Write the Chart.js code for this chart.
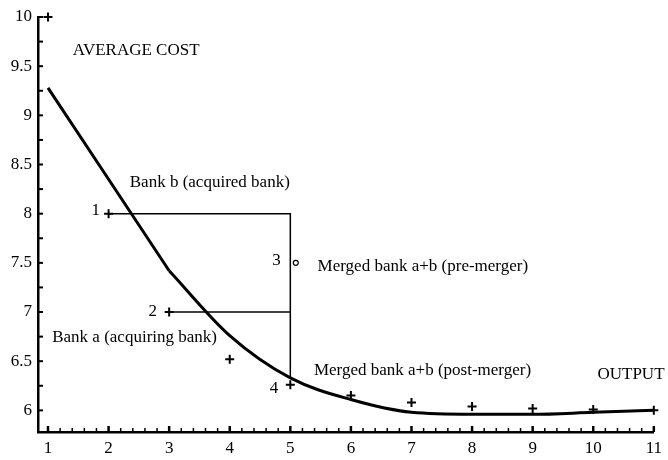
<!DOCTYPE html>
<html>
<head>
<meta charset="utf-8">
<script src="https://cdn.jsdelivr.net/npm/chart.js@4/dist/chart.umd.min.js"></script>
<style>
  body { margin: 0; background: #fff; }
  #wrap { width: 668px; height: 460px; }
</style>
</head>
<body>
<div id="wrap"><canvas id="myChart" width="668" height="460"></canvas></div>
<script>
// average cost curve: straight part from 1 to 3, smooth part from 3 on
var steepX = [1, 2, 3];
var steepY = [9.28, 8.35, 7.42];
var curveX = [3, 4, 5, 6, 7, 8, 9, 10, 11];
var curveY = [7.42, 6.76, 6.33, 6.11, 5.98, 5.96, 5.96, 5.98, 6.0];

// "+" observations
var plusX = [1, 2, 3, 4, 5, 6, 7, 8, 9, 10, 11];
var plusY = [10, 8, 7, 6.52, 6.26, 6.15, 6.08, 6.04, 6.02, 6.01, 6.0];

// bank b line + vertical drop, bank a line
var bracketX = [2, 5, 5];
var bracketY = [8, 8, 6.33];
var bankAX = [3, 5];
var bankAY = [7, 7];

// pre-merger point "o"
var preX = [5.09];
var preY = [7.5];

var xTicks = [1, 2, 3, 4, 5, 6, 7, 8, 9, 10, 11];
var yTicks = [6, 6.5, 7, 7.5, 8, 8.5, 9, 9.5, 10];
var yTickLabels = ['6', '6.5', '7', '7.5', '8', '8.5', '9', '9.5', '10'];

var notes = [
  { text: 'AVERAGE COST', x: 1.41, y: 9.66 },
  { text: 'Bank b (acquired bank)', x: 2.35, y: 8.32 },
  { text: '1', x: 1.72, y: 8.03 },
  { text: '3', x: 4.7, y: 7.52 },
  { text: 'Merged bank a+b (pre-merger)', x: 5.45, y: 7.46 },
  { text: '2', x: 2.66, y: 7.01 },
  { text: 'Bank a (acquiring bank)', x: 1.07, y: 6.74 },
  { text: '4', x: 4.66, y: 6.22 },
  { text: 'Merged bank a+b (post-merger)', x: 5.39, y: 6.40 },
  { text: 'OUTPUT', x: 10.07, y: 6.36 }
];

function pts(xs, ys) {
  var out = [];
  for (var i = 0; i < xs.length; i++) {
    out.push({ x: xs[i], y: ys[i] });
  }
  return out;
}

var FONT = '"Liberation Serif", "Times New Roman", serif';

// inward tick marks and text notes
var extras = {
  id: 'extras',
  afterDatasetsDraw: function(chart) {
    var ctx = chart.ctx;
    var xs = chart.scales.x;
    var ys = chart.scales.y;
    var area = chart.chartArea;
    ctx.save();
    ctx.strokeStyle = '#000';
    for (var v = 1; v <= 11.001; v += 0.2) {
      var px = xs.getPixelForValue(v);
      var major = Math.abs(v - Math.round(v)) < 0.01;
      ctx.lineWidth = major ? 2.5 : 1.5;
      ctx.beginPath();
      ctx.moveTo(px, area.bottom);
      ctx.lineTo(px, area.bottom - (major ? 6 : 4));
      ctx.stroke();
    }
    for (var w = 6; w <= 10.001; w += 0.25) {
      var py = ys.getPixelForValue(w);
      ctx.lineWidth = 2;
      ctx.beginPath();
      ctx.moveTo(area.left, py);
      ctx.lineTo(area.left + 5, py);
      ctx.stroke();
    }
    ctx.fillStyle = '#000';
    ctx.font = '17px ' + FONT;
    ctx.textBaseline = 'middle';
    ctx.textAlign = 'left';
    notes.forEach(function(n) {
      ctx.fillText(n.text, xs.getPixelForValue(n.x), ys.getPixelForValue(n.y));
    });
    ctx.restore();
  }
};

var ctx = document.getElementById('myChart').getContext('2d');
var chart = new Chart(ctx, {
  type: 'scatter',
  data: {
    datasets: [
      {
        label: 'Average cost (steep)',
        data: pts(steepX, steepY),
        showLine: true,
        borderColor: '#000',
        borderWidth: 3,
        pointRadius: 0,
        tension: 0,
        clip: false
      },
      {
        label: 'Average cost',
        data: pts(curveX, curveY),
        showLine: true,
        borderColor: '#000',
        borderWidth: 3,
        pointRadius: 0,
        cubicInterpolationMode: 'monotone',
        clip: false
      },
      {
        label: 'Bank b',
        data: pts(bracketX, bracketY),
        showLine: true,
        borderColor: '#000',
        borderWidth: 1.5,
        pointRadius: 0,
        clip: false
      },
      {
        label: 'Bank a',
        data: pts(bankAX, bankAY),
        showLine: true,
        borderColor: '#000',
        borderWidth: 1.5,
        pointRadius: 0,
        clip: false
      },
      {
        label: 'Observations',
        data: pts(plusX, plusY),
        pointStyle: 'cross',
        pointRadius: 4.5,
        borderColor: '#000',
        borderWidth: 2,
        clip: false
      },
      {
        label: 'Pre-merger',
        data: pts(preX, preY),
        pointStyle: 'circle',
        pointRadius: 2.5,
        borderColor: '#000',
        backgroundColor: '#fff',
        borderWidth: 1.2,
        clip: false
      }
    ]
  },
  options: {
    responsive: false,
    animation: false,
    layout: { padding: { top: 17, right: 13, left: 0, bottom: 0 } },
    plugins: {
      legend: { display: false },
      tooltip: { enabled: false }
    },
    scales: {
      x: {
        type: 'linear',
        min: 0.835,
        max: 11,
        afterBuildTicks: function(s) {
          s.ticks = xTicks.map(function(v) { return { value: v }; });
        },
        afterFit: function(s) { s.height = 28; },
        ticks: {
          color: '#000',
          padding: 6,
          font: { family: FONT, size: 17 },
          callback: function(v) { return String(v); }
        },
        grid: { display: false, drawTicks: false },
        border: { display: true, color: '#000', width: 2.5 }
      },
      y: {
        type: 'linear',
        min: 5.78,
        max: 10,
        afterBuildTicks: function(s) {
          s.ticks = yTicks.map(function(v) { return { value: v }; });
        },
        afterFit: function(s) { s.width = 38; },
        ticks: {
          color: '#000',
          padding: 6,
          font: { family: FONT, size: 17 },
          callback: function(v) {
            var i = yTicks.indexOf(v);
            return i >= 0 ? yTickLabels[i] : '';
          }
        },
        grid: { display: false, drawTicks: false },
        border: { display: true, color: '#000', width: 2.5 }
      }
    }
  },
  plugins: [extras]
});
</script>
</body>
</html>
